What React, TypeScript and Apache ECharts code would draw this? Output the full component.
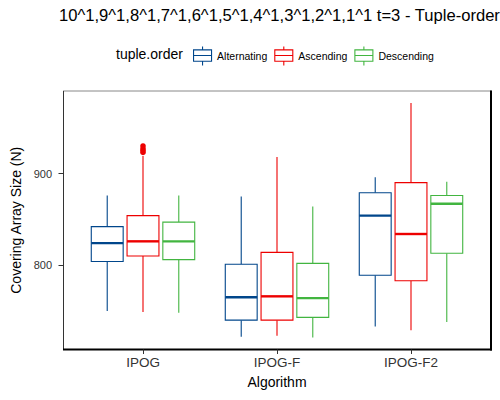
import React, { useEffect, useRef } from 'react';
import * as echarts from 'echarts';

const categories = ['IPOG', 'IPOG-F', 'IPOG-F2'];
const groupNames = ['Alternating', 'Ascending', 'Descending'];
const groupColors = ['#00468B', '#ED0000', '#42B540'];
// [min, Q1, median, Q3, max] for each category
const alternatingStats = [
  [750, 804, 824, 842, 876],
  [722, 740, 765, 801, 875],
  [733, 789, 854, 879, 896],
];
const ascendingStats = [
  [749, 810, 826, 854, 919],
  [723, 740, 766, 814, 918],
  [729, 783, 834, 890, 977],
];
const descendingStats = [
  [748, 806, 826, 847, 876],
  [721, 743, 764, 802, 864],
  [738, 813, 867, 876, 891],
];
// [categoryIndex, value]
const ascendingOutliers = [
  [0, 923],
  [0, 925],
  [0, 927],
  [0, 930],
];
const yTicks = [800, 900];

const FONT = 'Liberation Sans, Arial, Helvetica, sans-serif';
const DODGE = 0.267;
const HALF = 0.119;

function makeBoxRender(dodge: number) {
  return (params: any, api: any) => {
    const x = api.value(0);
    const band = api.size([1, 0])[0];
    const cx = api.coord([x, api.value(3)])[0] + dodge * DODGE * band;
    const hw = HALF * band;
    const yMin = api.coord([x, api.value(1)])[1];
    const yQ1 = api.coord([x, api.value(2)])[1];
    const yMed = api.coord([x, api.value(3)])[1];
    const yQ3 = api.coord([x, api.value(4)])[1];
    const yMax = api.coord([x, api.value(5)])[1];
    const color = api.visual('color');
    const ls = { stroke: color, lineWidth: 1.1, fill: null };
    return {
      type: 'group',
      children: [
        { type: 'line', shape: { x1: cx, y1: yMax, x2: cx, y2: yQ3 }, style: ls },
        { type: 'line', shape: { x1: cx, y1: yQ1, x2: cx, y2: yMin }, style: ls },
        {
          type: 'rect',
          shape: { x: cx - hw, y: yQ3, width: 2 * hw, height: yQ1 - yQ3 },
          style: { fill: '#ffffff', stroke: color, lineWidth: 1.1 },
        },
        {
          type: 'line',
          shape: { x1: cx - hw, y1: yMed, x2: cx + hw, y2: yMed },
          style: { stroke: color, lineWidth: 2.4 },
        },
      ],
    };
  };
}

function toData(stats: number[][]) {
  return stats.map((s, i) => [i, ...s]);
}

const ICON =
  'path://M9.5,0L9.5,3.3M0.5,3.3L18.5,3.3L18.5,14.7L0.5,14.7ZM0.5,9L18.5,9M9.5,14.7L9.5,19';

export default function App() {
  const ref = useRef<HTMLDivElement>(null);
  useEffect(() => {
    if (!ref.current) return;
    const chart = echarts.init(ref.current, undefined, { renderer: 'svg' });
    const statsList = [alternatingStats, ascendingStats, descendingStats];
    const boxSeries = groupNames.map((name, gi) => ({
      type: 'custom',
      name,
      renderItem: makeBoxRender(gi - 1),
      data: toData(statsList[gi]),
      encode: { x: 0, y: [1, 2, 3, 4, 5] },
      itemStyle: { color: groupColors[gi], borderColor: groupColors[gi] },
      z: 2,
    }));
    const outlierSeries = {
      type: 'custom',
      name: 'Ascending outliers',
      renderItem: (params: any, api: any) => {
        const x = api.value(0);
        const pt = api.coord([x, api.value(1)]);
        return {
          type: 'circle',
          shape: { cx: pt[0], cy: pt[1], r: 2.8 },
          style: { fill: api.visual('color') },
        };
      },
      data: ascendingOutliers,
      encode: { x: 0, y: 1 },
      itemStyle: { color: groupColors[1] },
      z: 3,
    };
    chart.setOption({
      animation: false,
      backgroundColor: '#ffffff',
      textStyle: { fontFamily: FONT },
      title: {
        text: '10^1,9^1,8^1,7^1,6^1,5^1,4^1,3^1,2^1,1^1 t=3 - Tuple-order',
        left: 54,
        top: 2,
        textStyle: { fontFamily: FONT, fontSize: 16.6, fontWeight: 'normal', color: '#000' },
      },
      legend: {
        left: 188,
        top: 41,
        itemWidth: 19,
        itemHeight: 19,
        itemGap: 7,
        icon: ICON,
        textStyle: { fontFamily: FONT, fontSize: 10.5, color: '#000' },
        data: groupNames.map((name, gi) => ({
          name,
          itemStyle: { color: '#ffffff', borderColor: groupColors[gi], borderWidth: 1.1 },
        })),
      },
      grid: { left: 76, right: 22, top: 91, bottom: 50.5 },
      xAxis: {
        type: 'category',
        data: categories,
        axisLine: { show: false },
        axisTick: { show: true, alignWithLabel: true, length: 4.5, lineStyle: { color: '#333' } },
        axisLabel: { fontFamily: FONT, fontSize: 13.5, color: '#333', margin: 6 },
        splitLine: { show: false },
        name: 'Algorithm',
        nameLocation: 'middle',
        nameGap: 25,
        nameTextStyle: { fontFamily: FONT, fontSize: 14, color: '#000' },
      },
      yAxis: {
        type: 'value',
        min: 708,
        max: 990,
        offset: 12.5,
        axisLine: { show: false },
        axisTick: { show: true, length: 5, customValues: yTicks, lineStyle: { color: '#333' } },
        axisLabel: { fontFamily: FONT, fontSize: 11, color: '#333', margin: 11.5, customValues: yTicks },
        splitLine: { show: false },
        name: 'Covering Array Size (N)',
        nameLocation: 'middle',
        nameGap: 40,
        nameTextStyle: { fontFamily: FONT, fontSize: 14, color: '#000' },
      },
      graphic: [
        {
          type: 'text',
          left: 116,
          top: 47,
          style: { text: 'tuple.order', fontFamily: FONT, fontSize: 14, fill: '#000' },
        },
        { type: 'line', shape: { x1: 63, y1: 91, x2: 491.5, y2: 91 }, style: { stroke: '#888', lineWidth: 1 } },
        { type: 'line', shape: { x1: 63.5, y1: 91, x2: 63.5, y2: 350 }, style: { stroke: '#333', lineWidth: 1 } },
        { type: 'line', shape: { x1: 491, y1: 90.5, x2: 491, y2: 350.5 }, style: { stroke: '#000', lineWidth: 2 } },
        { type: 'line', shape: { x1: 63, y1: 349.5, x2: 492, y2: 349.5 }, style: { stroke: '#000', lineWidth: 2 } },
      ],
      series: [...boxSeries, outlierSeries],
    });
    return () => chart.dispose();
  }, []);
  return (
    <div
      ref={ref}
      style={{ position: 'fixed', left: 0, top: 0, width: 500, height: 400 }}
    />
  );
}
